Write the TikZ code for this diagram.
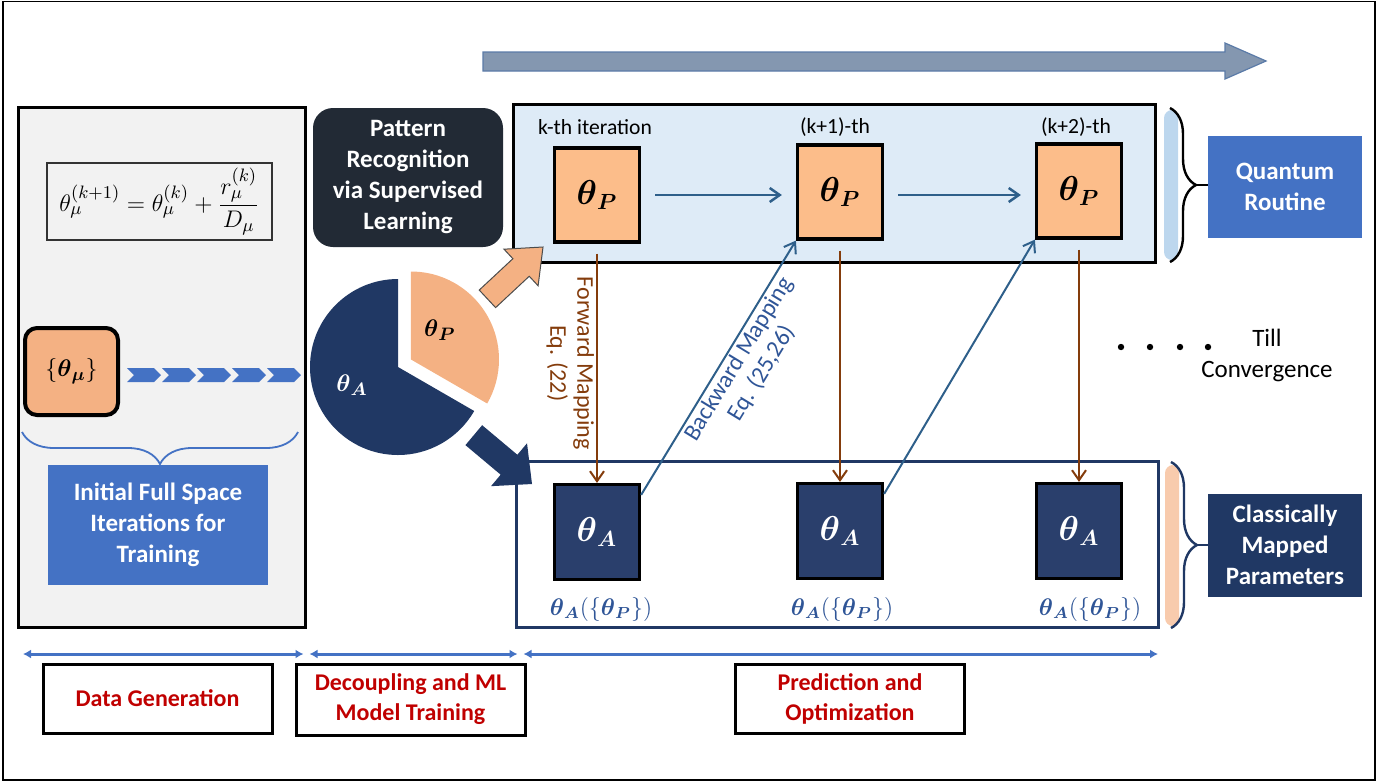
\documentclass[tikz,border=0pt]{standalone}
\usepackage{fontspec}
\setmainfont{Carlito}
\usepackage{amsmath}
\usepackage{amssymb}
\usetikzlibrary{arrows.meta, calc, positioning, decorations.pathreplacing}

\definecolor{panelgrey}{HTML}{F2F2F2}
\definecolor{paramorange}{HTML}{F4B183}
\definecolor{boxorange}{HTML}{FCBD8A}
\definecolor{navy}{HTML}{203864}
\definecolor{boxnavy}{HTML}{2A3F6C}
\definecolor{tagblue}{HTML}{4472C4}
\definecolor{quantumfill}{HTML}{DEEBF7}
\definecolor{stripblue}{HTML}{BDD7EE}
\definecolor{striporange}{HTML}{F8CBAD}
\definecolor{fwdbrown}{HTML}{843C0C}
\definecolor{bwdblue}{HTML}{2E5F8A}
\definecolor{progress}{HTML}{8497B0}
\definecolor{progressedge}{HTML}{5B7BA8}
\definecolor{labelblue}{HTML}{2F5597}
\definecolor{phasered}{HTML}{C00000}
\definecolor{darkslate}{HTML}{222A35}

\newcommand{\thP}{\boldsymbol{\theta}_{\boldsymbol{P}}}
\newcommand{\thA}{\boldsymbol{\theta}_{\boldsymbol{A}}}

\begin{document}
\begin{tikzpicture}[x=0.5pt, y=-0.5pt,
    >={Straight Barb[length=5pt, width=7pt]},
    panel/.style   ={draw, line width=1.5pt, fill=panelgrey, inner sep=0pt,
                     minimum width=143.5pt, minimum height=260pt},
    eqbox/.style   ={draw=black!80, line width=0.6pt, inner sep=0pt,
                     minimum width=112.5pt, minimum height=38.5pt,
                     font=\fontsize{12.8}{15}\selectfont},
    seed/.style    ={draw, line width=2pt, rounded corners=6pt, fill=paramorange,
                     minimum width=46.5pt, minimum height=43.5pt,
                     font=\fontsize{13}{15}\selectfont},
    tag/.style     ={fill=tagblue, text=white, align=center, inner sep=0pt,
                     font=\fontsize{12.5}{15.5}\selectfont\bfseries},
    learn/.style   ={fill=darkslate, text=white, align=center, inner sep=0pt,
                     rounded corners=10pt, minimum width=95pt, minimum height=69.5pt,
                     font=\fontsize{12.5}{15.5}\selectfont\bfseries},
    stage/.style   ={draw, line width=1.5pt, inner sep=0pt},
    iter/.style    ={font=\fontsize{10.8}{13}\selectfont},
    pbox/.style    ={draw, line width=1.6pt, fill=boxorange, inner sep=0pt,
                     minimum width=42.5pt, minimum height=47pt,
                     font=\fontsize{16}{18}\selectfont},
    abox/.style    ={draw, line width=1.6pt, fill=boxnavy, text=white, inner sep=0pt,
                     minimum width=42.5pt, minimum height=47.5pt,
                     font=\fontsize{16}{18}\selectfont},
    alabel/.style  ={text=labelblue, font=\fontsize{11.5}{13}\selectfont},
    evolve/.style  ={->, bwdblue, line width=1.25pt, shorten <=7pt, shorten >=7pt},
    fwd/.style     ={->, fwdbrown, line width=1pt, shorten <=5pt},
    bwd/.style     ={->, bwdblue, line width=1pt},
    maptext/.style ={align=center, inner sep=1pt, font=\fontsize{12}{13.5}\selectfont},
    span/.style    ={{Latex[length=4pt, width=4.5pt]}-{Latex[length=4pt, width=4.5pt]},
                     tagblue, line width=1.5pt, shorten <=1.5pt, shorten >=1.5pt},
    phase/.style   ={draw, line width=1.5pt, text=phasered, align=center, inner sep=0pt,
                     minimum width=114.5pt, minimum height=34.5pt,
                     font=\fontsize{12}{15}\selectfont\bfseries},
    curly/.style   ={decorate, line width=1.2pt, decoration={brace, amplitude=13pt}},
]
\useasboundingbox (0,0) rectangle (1396,783);
\draw[line width=0.8pt] (3,1.5) rectangle (1375,780);

% progress arrow on top
\filldraw[fill=progress, draw=progressedge, line width=0.6pt]
  (483,52) -- (1225,52) -- (1225,43) -- (1266,61) -- (1225,79) -- (1225,71) -- (483,71) -- cycle;

% data generation panel
\node[panel] (gen) at (161.5,367) {};
\node[eqbox] (update) at (159.5,201.5)
  {$\theta_\mu^{(k+1)} = \theta_\mu^{(k)} + \dfrac{r_\mu^{(k)}}{D_\mu}$};
\node[seed] (mu) at (71.5,371.5) {$\{\boldsymbol{\theta}_{\boldsymbol{\mu}}\}$};
\foreach \i in {0,...,4}
  \fill[tagblue] ($(mu.east)+(7+35*\i,-3.5)$) -- ++(27,0) -- ++(7,7) -- ++(-7,7)
    -- ++(-27,0) -- ++(7,-7) -- cycle;
\draw[tagblue, line width=0.9pt, decorate, decoration={brace, amplitude=16pt, mirror}]
  (22,432) -- (298,432);
\node[tag, minimum width=110pt, minimum height=60pt] (init) at (158,525)
  {Initial Full Space\\Iterations for\\Training};

% decoupling
\node[learn] (pattern) at (408,177.5) {Pattern\\Recognition\\via Supervised\\Learning};
\begin{scope}[shift={(398,367)}, x=0.5pt, y=0.5pt]
  \fill[navy] (0,0) -- (90:88) arc[start angle=90, end angle=330, radius=88] -- cycle;
  \fill[paramorange] (30:15) -- ++(90:88) arc[start angle=90, end angle=-30, radius=88] -- cycle;
  \node[text=white, font=\fontsize{13}{15}\selectfont] (pieA) at (-46,-18) {$\thA$};
  \node[font=\fontsize{13}{15}\selectfont] (pieP) at (42,37) {$\thP$};
\end{scope}

% quantum routine
\node[stage, fill=quantumfill, minimum width=321pt, minimum height=79pt] (qbox) at (834,183) {};
\node[iter] (it1) at (595,127) {k-th iteration};
\node[iter] (it2) at (835,127) {(k+1)-th};
\node[iter] (it3) at (1076,127) {(k+2)-th};
\node[pbox] (p1) at (597,195) {$\thP$};
\node[pbox] (p2) at (840,192) {$\thP$};
\node[pbox] (p3) at (1079,191) {$\thP$};
\draw[evolve] (p1.east) -- (p1.east -| p2.west);
\draw[evolve] (p1.east -| p2.east) -- (p1.east -| p3.west);

% classically mapped
\node[stage, draw=navy, fill=white, minimum width=321pt, minimum height=83pt] (cbox) at (837,544) {};
\node[abox] (a1) at (597,532) {$\thA$};
\node[abox] (a2) at (840,531) {$\thA$};
\node[abox] (a3) at (1079,531) {$\thA$};
\node[alabel] (l1) at (601,609) {$\thA(\{\thP\})$};
\node[alabel] (l2) at (842,609) {$\thA(\{\thP\})$};
\node[alabel] (l3) at (1090,609) {$\thA(\{\thP\})$};

\draw[fwd] (p1.south) -- node[midway, rotate=-90, anchor=north, maptext, text=fwdbrown]
  {Forward Mapping\\Eq. (22)} (a1.north);
\draw[fwd] (p2.south) -- (a2.north);
\draw[fwd] (p3.south) -- (a3.north);
\draw[bwd] ([yshift=-6pt]a1.north east) -- node[pos=0.56, sloped, below, maptext, text=labelblue]
  {Backward Mapping\\Eq. (25,26)} (p2.south west);
\draw[bwd] ([yshift=-6pt]a2.north east) -- (p3.south west);

% block arrows out of the pie
\begin{scope}[shift={(543,247)}, rotate=43]
  \filldraw[fill=paramorange, draw=black!70, line width=0.5pt]
    (0,0) -- (-30,-25) -- (-30,-12) -- (-76,-12) -- (-76,12) -- (-30,12) -- (-30,25) -- cycle;
\end{scope}
\begin{scope}[shift={(532,484)}, rotate=-40]
  \fill[navy] (0,0) -- (-30,-28) -- (-30,-13) -- (-76,-13) -- (-76,13) -- (-30,13) -- (-30,28) -- cycle;
\end{scope}

% convergence
\foreach \x in {1121,1150,1180,1208}
  \fill (\x,347) circle (1.6pt);
\node[align=center, font=\fontsize{12.5}{15.5}\selectfont] (till) at (1267,355) {Till\\Convergence};

% braces and tags
\node[tag, minimum width=77pt, minimum height=51pt] (qtag) at (1285,187) {Quantum\\Routine};
\node[tag, fill=navy, minimum width=77pt, minimum height=51.5pt] (ctag) at (1285,545)
  {Classically\\Mapped\\Parameters};
\fill[stripblue, rounded corners=4pt] (1164,110) rectangle (1178,260);
\draw[curly] (1170,108) -- (1170,262);
\coordinate (qtip) at (1196,185);
\draw[line width=1.2pt] (qtip) -- (qtag.west |- qtip);
\fill[striporange, rounded corners=4pt] (1165,465) rectangle (1179,626);
\draw[curly, navy] (1171,462) -- (1171,628);
\coordinate (ctip) at (1197,545);
\draw[navy, line width=1.2pt] (ctip) -- (ctag.west |- ctip);

% phases
\coordinate (d0) at (20,654);
\coordinate (d1) at (306.5,654);
\coordinate (d2) at (520.5,654);
\coordinate (d3) at (1161,654);
\draw[span] (d0) -- (d1);
\draw[span] (d1) -- (d2);
\draw[span] (d2) -- (d3);
\node[phase] (datagen) at (157.5,698.5) {Data Generation};
\node[phase, minimum height=35.5pt] (mltrain) at (410.5,699.5) {Decoupling and ML\\Model Training};
\node[phase] (predict) at (850,698.5) {Prediction and\\Optimization};
\end{tikzpicture}
\end{document}
